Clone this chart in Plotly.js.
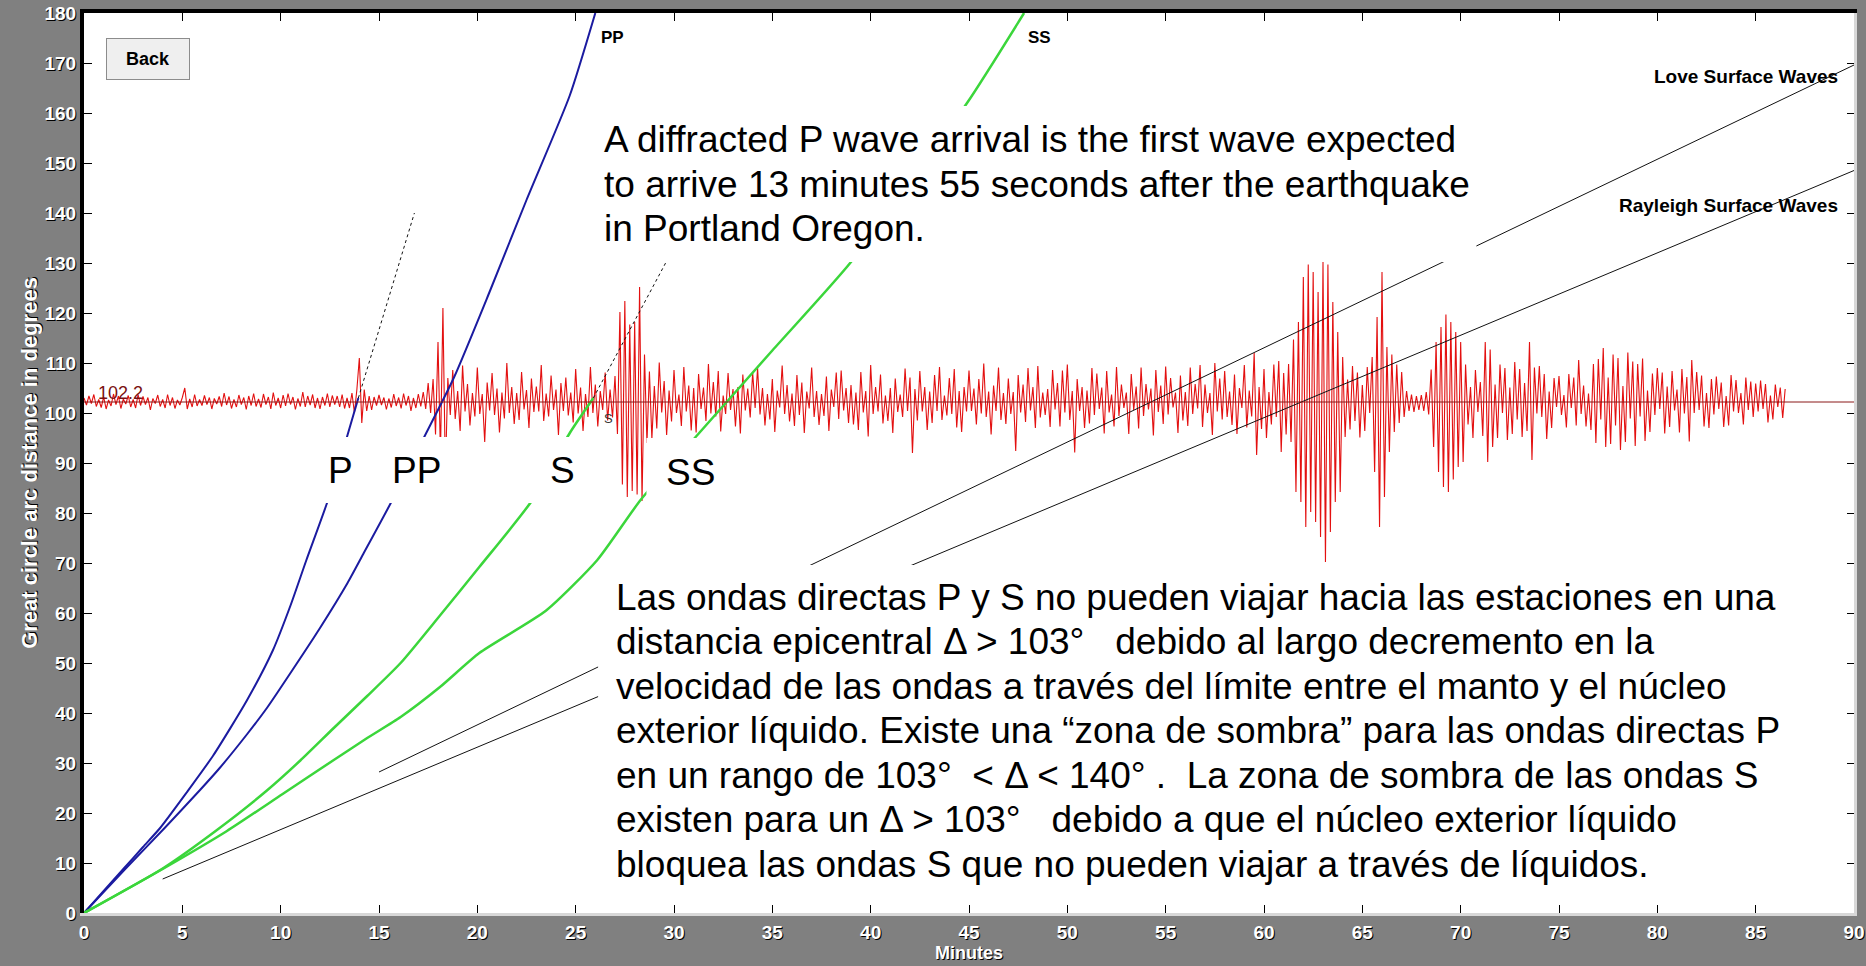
<!DOCTYPE html>
<html>
<head>
<meta charset="utf-8">
<script src="https://cdn.plot.ly/plotly-3.0.1.min.js"></script>
<style>html,body{margin:0;padding:0;background:#808080;}#chart{width:1866px;height:966px;}</style>
</head>
<body>
<div id="chart"></div>
<script>
// ---------- travel-time curves (minutes, degrees) ----------
const pTime  = [0, 1.0, 2.0, 3.0, 3.87, 5.2, 6.57, 8.28, 9.6, 10.5, 11.3, 12.4, 13.4, 13.95];
const pDist  = [0, 4.4, 8.8, 13.2, 17.0, 24.0, 31.5, 42.5, 52.5, 61.5, 70.5, 82.5, 95.6, 103.0];
const ppTime = [0, 2.0, 4.1, 5.9, 6.9, 8.3, 9.3, 10.6, 12.0, 13.4, 14.2, 15.6, 17.3, 18.8, 20.6, 22.5, 24.7, 26.0];
const ppDist = [0, 8.4, 17.0, 24.6, 29.0, 35.8, 41.0, 48.6, 57.0, 66.0, 71.8, 82.0, 95.2, 107.0, 124.0, 142.6, 163.5, 180.0];
const sTime  = [0, 4.0, 6.76, 9.3, 11.0, 12.7, 14.4, 16.1, 18.1, 20.1, 22.8, 24.7, 25.9];
const sDist  = [0, 8.9, 16.6, 24.5, 30.5, 37.0, 43.4, 50.0, 59.5, 69.2, 82.6, 96.0, 103.0];
const ssTime = [0, 4.0, 7.27, 10.1, 12.7, 14.4, 16.1, 18.1, 20.1, 23.5, 26.1, 28.3, 31.1, 35.0, 39.0, 44.9, 47.8];
const ssDist = [0, 8.8, 16.4, 23.8, 30.6, 35.0, 39.2, 45.2, 52.0, 60.5, 70.6, 82.6, 95.2, 112.5, 130.2, 162.0, 180.0];
const pDiffTime = [13.95, 16.8];
const pDiffDist = [103.0, 140.0];
const sDiffTime = [25.9, 29.6];
const sDiffDist = [103.0, 130.2];
const loveTime = [15.0, 90.0];
const loveDist = [28.2, 169.6];
const rayleighTime = [4.0, 90.0];
const rayleighDist = [6.8, 148.5];

// ---------- seismogram (deviation in degrees from the station line) ----------
const stationDist = 102.2;
const seisStep = 0.125;                 // minutes between samples
const seisSegStart = [0, 14, 27, 45, 61, 73];
const seisPreP = [
 0.8,-0.6,1.2,-0.3,1.5,-0.9,0.5,-1.1, 1.0,-1.4,0.4,-0.8,1.6,-0.5,1.2,-1.3,
 0.6,-0.4,1.3,-1.0,0.5,-1.2,1.5,-0.7, 1.1,-0.5,0.9,-1.6,0.7,-0.3,1.4,-0.9,
 0.5,-1.2,1.5,-0.7,0.9,-1.3,0.4,-0.6, 0.9,2.8,-1.4,0.6,-1.0,1.5,-0.8,0.5,
 -0.7,1.3,-0.5,0.9,-1.4,0.7,-0.4,1.1, -0.9,1.8,-0.6,1.1,-1.3,0.5,-1.0,1.4,
 -0.5,0.9,-1.5,1.2,-0.7,1.7,-0.9,0.6, -1.1,1.6,-0.5,1.0,-1.4,1.9,-0.7,0.8,
 -1.2,1.4,-0.8,1.7,-0.5,1.0,-1.5,0.7, -0.9,2.0,-1.0,1.2,-0.6,1.5,-1.2,0.8,
 -1.4,1.0,-0.7,1.7,-1.0,1.3,-0.5,1.2, -1.0,1.5,-1.3,0.8,-1.2,1.8,-2.2,2.5];
const seisPtoS = [
 8.8,-4.2,2.5,-1.8,1.2,-1.6,1.0,-0.7, 1.4,-0.6,0.9,-1.5,0.7,-1.1,1.6,-0.8,
 0.9,-1.3,1.7,-0.7,1.2,-1.8,0.8,-1.2, 1.6,-0.9,2.0,-1.4,3.8,-2.2,4.6,-6.5,
 12.0,-10.5,18.8,-14.5,4.8,-2.6,6.4,-3.4, 2.2,-5.8,7.3,-1.9,3.6,-4.7,1.8,-2.9,
 6.9,-2.4,1.6,-8.0,3.9,-1.7,5.8,-2.6, 2.7,-6.1,1.9,-3.3,7.8,-2.2,3.0,-4.4,
 1.8,-3.6,6.0,-1.5,2.4,-5.2,4.7,-2.0, 3.1,-1.9,7.4,-3.8,1.7,-2.9,5.3,-1.6,
 2.5,-6.6,3.8,-1.8,4.9,-2.7,1.9,-4.1, 6.6,-2.3,2.9,-5.8,1.6,-3.0,7.0,-2.2,
 3.5,-4.9,2.2,-1.6,5.9,-3.7,2.5,-3.1];
const seisSCoda = [
 5.2,-6.4,18.0,-16.5,20.2,-19.0,15.5,-17.8, 16.0,-18.5,23.0,-19.8,9.5,-8.2,6.1,-7.4,
 3.2,-5.3,7.9,-2.1,4.2,-6.6,2.3,-3.9, 6.4,-2.2,1.5,-4.8,7.0,-1.9,3.3,-5.7,
 2.8,-6.1,5.6,-1.4,2.9,-3.8,7.6,-2.3, 4.0,-2.9,6.2,-5.9,1.3,-2.4,5.8,-1.6,
 2.6,-4.9,3.0,-6.3,5.5,-1.7,2.7,-3.1, 5.9,-1.2,6.8,-2.5,2.8,-4.7,1.6,-3.5,
 4.6,-6.0,2.3,-1.1,7.3,-2.4,3.4,-3.9, 1.7,-4.8,5.4,-2.6,3.9,-6.2,2.1,-1.3,
 6.9,-3.0,2.2,-4.6,1.6,-2.8,5.1,-5.8, 2.5,-1.0,5.9,-3.4,6.3,-1.7,2.8,-4.2,
 3.4,-4.5,1.9,-5.6,6.0,-2.1,2.2,-6.9, 7.4,-2.4,3.0,-1.9,5.5,-4.3,1.3,-3.8,
 2.8,-6.2,4.7,-2.0,1.5,-3.0,6.7,-1.8, 4.9,-10.2,2.6,-3.7,6.2,-1.9,3.0,-5.6,
 2.1,-4.2,5.4,-1.8,7.0,-3.6,1.3,-2.7, 4.8,-2.4,6.6,-5.1,2.2,-6.0,3.0,-1.9];
const seisPreSurface = [
 6.3,-1.8,2.7,-4.5,4.6,-2.3,7.7,-3.0, 2.1,-6.5,3.3,-1.8,6.9,-3.6,1.8,-4.4,
 4.7,-2.4,2.0,-9.8,5.4,-2.1,3.5,-4.0, 6.8,-1.7,3.0,-5.2,7.2,-3.1,1.9,-2.6,
 2.6,-5.0,6.4,-1.5,3.8,-4.9,6.3,-2.1, 7.5,-3.6,2.2,-10.1,4.6,-1.8,3.0,-5.2,
 2.3,-4.3,6.8,-2.6,5.7,-1.4,2.9,-6.3, 6.2,-2.1,1.5,-4.9,7.0,-2.8,3.5,-1.2,
 1.9,-6.4,5.6,-1.6,3.1,-5.3,6.9,-2.8, 3.6,-1.5,2.7,-6.7,6.4,-2.0,3.3,-4.4,
 7.1,-2.5,4.8,-1.1,1.9,-6.2,5.3,-3.7, 2.0,-4.8,6.9,-2.4,3.6,-1.3,7.4,-5.0,
 3.5,-2.2,1.8,-6.6,7.8,-1.9,4.7,-3.5, 6.2,-3.0,2.1,-4.6,5.5,-6.4,2.8,-1.2,
 7.4,-5.1,2.3,-2.9,9.8,-10.6,3.0,-5.4, 6.6,-7.2,2.0,-4.5,7.5,-3.0,8.2,-10.0];
const seisSurface = [
 5.8,-6.5,7.6,-8.0,12.5,-18.0,16.0,-20.0, 25.0,-25.0,27.5,-22.0,26.0,-24.0,22.0,-27.0,
 28.0,-32.0,27.5,-26.0,20.0,-20.0,14.0,-18.0, 9.0,-7.0,4.5,-5.5,7.2,-3.8,5.9,-7.1,
 3.4,-5.8,7.0,-2.2,9.0,-14.0,17.0,-25.0, 26.0,-19.0,11.0,-10.0,9.5,-6.0,7.5,-4.2,
 6.0,-3.0,2.2,-1.8,1.5,-2.0,1.2,-1.6, 1.4,-1.8,2.0,-2.5,6.5,-9.0,12.0,-14.0,
 15.0,-17.0,17.5,-18.0,16.0,-15.5,14.0,-13.0, 12.0,-12.0,7.5,-4.5,3.0,-7.2,6.4,-2.0,
 4.0,-6.8,12.0,-12.0,10.5,-9.0,3.5,-7.2, 7.5,-2.2,6.8,-7.6,2.9,-6.4,8.0,-3.5];
const seisLateCoda = [
 6.6,-7.0,3.8,-5.8,12.0,-11.6,6.9,-2.3, 7.2,-3.0,5.6,-7.4,2.1,-5.2,4.8,-1.0,
 5.2,-2.6,1.4,-5.1,5.6,-1.2,4.9,-4.7, 8.4,-2.4,3.3,-4.9,1.7,-5.6,7.6,-8.2,
 8.6,-3.5,10.8,-9.0,4.9,-8.4,9.5,-4.7, 8.8,-9.6,3.2,-8.0,9.9,-3.3,8.1,-8.8,
 7.6,-2.9,8.7,-7.8,2.3,-6.0,5.7,-2.6, 6.8,-1.4,5.9,-6.3,3.1,-5.0,6.2,-1.7,
 2.5,-6.1,6.6,-2.3,5.0,-7.9,8.4,-2.2, 6.0,-1.6,5.3,-4.9,1.8,-5.2,4.6,-2.5,
 5.1,-1.4,3.9,-5.0,1.2,-4.7,5.4,-1.9, 4.4,-2.2,1.8,-4.5,4.9,-1.6,4.1,-3.0,
 3.7,-1.9,4.3,-1.4,3.6,-4.1,1.3,-3.5, 3.5,-1.0,2.9,-3.2,2.6];
const seisSegments = [seisPreP, seisPtoS, seisSCoda, seisPreSurface, seisSurface, seisLateCoda];

// ---------- tick labels ----------
const xTickVals = [0,5,10,15,20,25,30,35,40,45,50,55,60,65,70,75,80,85,90];
const yTickVals = [0,10,20,30,40,50,60,70,80,90,100,110,120,130,140,150,160,170,180];

// build seismogram x/y from the sampled segments
const seisX = [], seisY = [];
seisSegments.forEach((seg, k) => {
  seg.forEach((d, i) => { seisX.push(seisSegStart[k] + i * seisStep); seisY.push(stationDist + d); });
});

const BLUE = '#1b1ba0', GREEN = '#3bd63b', RED = '#e31010';
const traces = [
  {x: seisX, y: seisY, mode: 'lines', line: {color: RED, width: 1.1}, hoverinfo: 'skip'},
  {x: pTime, y: pDist, mode: 'lines', line: {color: BLUE, width: 2, shape: 'spline', smoothing: 0.6}, name: 'P'},
  {x: ppTime, y: ppDist, mode: 'lines', line: {color: BLUE, width: 2, shape: 'spline', smoothing: 0.6}, name: 'PP'},
  {x: sTime, y: sDist, mode: 'lines', line: {color: GREEN, width: 2.5, shape: 'spline', smoothing: 0.6}, name: 'S'},
  {x: ssTime, y: ssDist, mode: 'lines', line: {color: GREEN, width: 2.5, shape: 'spline', smoothing: 0.6}, name: 'SS'},
  {x: pDiffTime, y: pDiffDist, mode: 'lines', line: {color: '#111', width: 1, dash: '3px,3px'}},
  {x: sDiffTime, y: sDiffDist, mode: 'lines', line: {color: '#111', width: 1, dash: '3px,3px'}},
  {x: loveTime, y: loveDist, mode: 'lines', line: {color: '#111', width: 1}},
  {x: rayleighTime, y: rayleighDist, mode: 'lines', line: {color: '#111', width: 1}},
  {x: [0, 90], y: [stationDist, stationDist], mode: 'lines', line: {color: '#8a1818', width: 1}, xaxis: 'x2', yaxis: 'y2'}
];

const FAM = 'Liberation Sans, Arial, sans-serif';
const tickFont = {family: FAM, size: 19, color: '#ffffff', weight: 'bold', shadow: '1px 1px 0px #000'};
const bigFont = {family: FAM, size: 37, color: '#000'};
const nb = '\u00a0';

function line(text, x, y) {
  return {xref: 'x', yref: 'y', x: x, y: y, xanchor: 'left', yanchor: 'middle', text: text, showarrow: false, font: bigFont, borderpad: 0};
}
function lbl(text, x, y, size, opts) {
  return Object.assign({xref: 'x', yref: 'y', x: x, y: y, text: text, showarrow: false,
    font: {family: FAM, size: size, color: '#000'}}, opts || {});
}

const annotations = [
  // Back button
  {xref: 'paper', yref: 'paper', x: 0.0364, y: 0.9489, xanchor: 'center', yanchor: 'middle', text: '<b>Back</b>',
   showarrow: false, width: 82, height: 40, bgcolor: '#efefef', bordercolor: '#8c8c8c', borderwidth: 1, borderpad: 0,
   font: {family: FAM, size: 18, color: '#000'}},
  lbl('<b>PP</b>', 26.2, 175.2, 17, {xanchor: 'left'}),
  lbl('<b>SS</b>', 47.9, 175.2, 17, {xanchor: 'left'}),
  lbl('<b>Love Surface Waves</b>', 89.3, 167.4, 19, {xanchor: 'right'}),
  lbl('<b>Rayleigh Surface Waves</b>', 89.3, 141.6, 19, {xanchor: 'right'}),
  lbl('102.2', 0.6, 104.0, 18, {xanchor: 'left', font: {family: FAM, size: 18, color: '#7a1010'}}),
  lbl('S', 26.65, 99.0, 13, {xanchor: 'center', font: {family: FAM, size: 13, color: '#333'}}),
  lbl('P', 13.02, 88.6, 37),
  lbl('PP', 16.89, 88.6, 37),
  lbl('S', 24.31, 88.6, 37),
  lbl('SS', 30.82, 88.2, 37),
  line('A diffracted P wave arrival is the first wave expected', 26.4, 154.7),
  line('to arrive 13 minutes 55 seconds after the earthquake', 26.4, 145.8),
  line('in Portland Oregon.', 26.4, 136.9),
  line('Las ondas directas P y S no pueden viajar hacia las estaciones en una', 27.0, 63.2),
  line('distancia epicentral Δ &gt; 103°' + nb + nb + nb + 'debido al largo decremento en la', 27.0, 54.3),
  line('velocidad de las ondas a través del límite entre el manto y el núcleo', 27.0, 45.4),
  line('exterior líquido. Existe una “zona de sombra” para las ondas directas P', 27.0, 36.5),
  line('en un rango de 103°' + nb + nb + '&lt; Δ &lt; 140°' + nb + '.' + nb + nb + 'La zona de sombra de las ondas S', 27.0, 27.6),
  line('existen para un Δ &gt; 103°' + nb + nb + nb + 'debido a que el núcleo exterior líquido', 27.0, 18.7),
  line('bloquea las ondas S que no pueden viajar a través de líquidos.', 27.0, 9.8)
];

function mask(x0, x1, y0, y1) {
  return {type: 'rect', xref: 'x', yref: 'y', x0: x0, x1: x1, y0: y0, y1: y1, fillcolor: '#ffffff', line: {width: 0}, layer: 'above'};
}
const shapes = [
  mask(25.74, 70.8, 130.2, 161.4),   // upper text box
  mask(26.14, 89.3, 3.6, 69.6),      // lower text box
  mask(11.65, 14.39, 82.0, 95.2),    // P label
  mask(14.80, 18.97, 82.0, 95.2),    // PP label
  mask(22.5, 26.2, 82.0, 95.2),      // S label
  mask(28.6, 33.4, 82.6, 95.0)       // SS label
];

const layout = {
  width: 1866, height: 966,
  margin: {l: 84, r: 12, t: 13, b: 53, pad: 0},
  paper_bgcolor: '#808080', plot_bgcolor: '#ffffff',
  showlegend: false,
  font: {family: FAM},
  xaxis: {range: [0, 90], tickvals: xTickVals, ticktext: xTickVals.map(String), ticks: 'inside', ticklen: 8, tickwidth: 1, tickcolor: '#000',
    showline: true, linecolor: '#d8d8d8', linewidth: 3, showgrid: false, zeroline: false, tickfont: tickFont,
    title: {text: 'Minutes', font: {family: FAM, size: 18, color: '#fff', weight: 'bold', shadow: '1px 1px 0px #000'}, standoff: 2}},
  xaxis2: {range: [0, 90], overlaying: 'x', side: 'top', anchor: 'y2', tickvals: xTickVals, ticks: 'inside', ticklen: 8, tickwidth: 1, tickcolor: '#000',
    showline: true, linecolor: '#000', linewidth: 4, showgrid: false, zeroline: false, showticklabels: false},
  yaxis: {range: [0, 180], tickvals: yTickVals, ticktext: yTickVals.map(String), ticks: 'inside', ticklen: 8, tickwidth: 1, tickcolor: '#000',
    showline: true, linecolor: '#000', linewidth: 4, showgrid: false, zeroline: false, tickfont: tickFont,
    title: {text: 'Great circle arc distance in degrees', font: {family: FAM, size: 22, color: '#fff', weight: 'bold', shadow: '1px 1px 0px #000'}, standoff: 2}},
  yaxis2: {range: [0, 180], overlaying: 'y', side: 'right', anchor: 'x2', tickvals: yTickVals, ticks: 'inside', ticklen: 7, tickwidth: 1, tickcolor: '#000',
    showline: true, linecolor: '#d8d8d8', linewidth: 3, showgrid: false, zeroline: false, showticklabels: false},
  annotations: annotations,
  shapes: shapes
};

Plotly.newPlot('chart', traces, layout, {displayModeBar: false, staticPlot: true});
</script>
</body>
</html>
